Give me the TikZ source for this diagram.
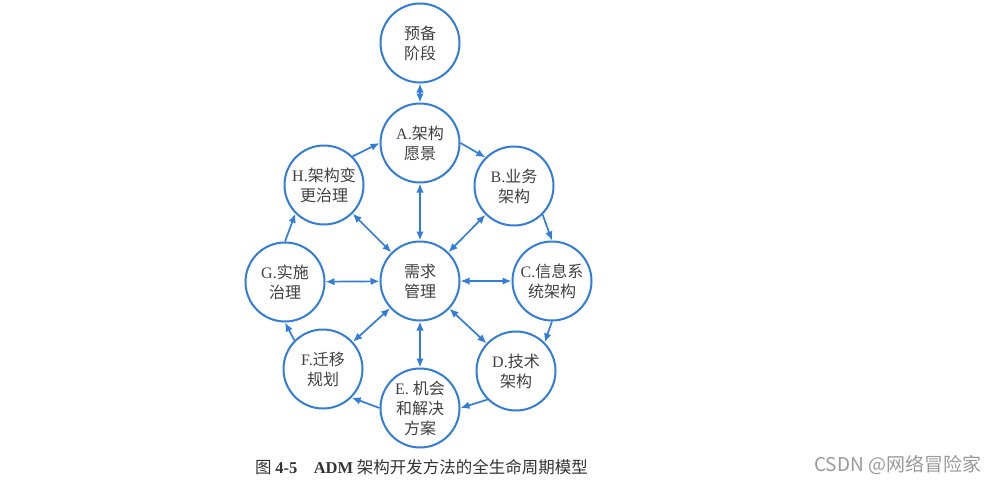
\documentclass[tikz,border=0pt]{standalone}
\usepackage{fontspec}
\setmainfont{Liberation Serif}
\newfontfamily\cjk{Noto Sans CJK SC}
\usepackage{xcolor}
\usetikzlibrary{arrows.meta}
\definecolor{admblue}{RGB}{50,125,215}

\begin{document}
\begin{tikzpicture}[x=0.5pt,y=0.5pt,
		phase/.style={circle,draw=admblue,line width=1pt,minimum size=39.5pt,inner sep=0pt,
			align=center,text=black!75,font=\cjk\fontsize{8}{10}\selectfont},
		flow/.style={draw=admblue,line width=0.85pt,-{Latex[length=4.5pt,width=3.8pt]}},
		both/.style={draw=admblue,line width=0.85pt,{Latex[length=4.5pt,width=3.8pt]}-{Latex[length=4.5pt,width=3.8pt]}}]
			\useasboundingbox (0,0) rectangle (997,484);
			\node[phase] (prep) at (420,441) {预备\\阶段};
			\node[phase] (a) at (420,341) {\textrm{A.}架构\\愿景};
			\node[phase] (b) at (514,298) {\textrm{B.}业务\\架构};
			\node[phase] (c) at (552,203) {\textrm{C.}信息系\\统架构};
			\node[phase] (d) at (516,113) {\textrm{D.}技术\\架构};
			\node[phase] (e) at (420,76) {\textrm{E. }机会\\和解决\\方案};
			\node[phase] (f) at (323,115) {\textrm{F.}迁移\\规划};
			\node[phase] (g) at (285,202) {\textrm{G.}实施\\治理};
			\node[phase] (h) at (324,299) {\textrm{H.}架构变\\更治理};
			\node[phase] (req) at (420,203) {需求\\管理};
			% preliminary phase
			\draw[both] (prep) -- (a);
			% requirements management in the middle
			\foreach \p in {a,b,c,d,e,f,g,h}
				\draw[both] (req) -- (\p);
			% the ADM cycle
			\draw[flow] (a.0) -- (b.135);
			\draw[flow] (b.-45) -- (c.90);
			\draw[flow] (c.-90) -- (d.45);
			\draw[flow] (d.-135) -- (e.0);
			\draw[flow] (e.180) -- (f.-45);
			\draw[flow] (f.135) -- (g.-90);
			\draw[flow] (g.90) -- (h.-135);
			\draw[flow] (h.45) -- (a.180);
			% caption and watermark
			\node[anchor=west,text=black!80,font=\cjk\fontsize{8.25}{10}\selectfont] (cap) at (248,17)
				{图 \textrm{\bfseries 4-5}\quad\textrm{\bfseries ADM} 架构开发方法的全生命周期模型};
			\node[anchor=west,text=black!40,font=\cjk\fontsize{9.5}{11}\selectfont] (mark) at (807,19)
				{CSDN @网络冒险家};
		\end{tikzpicture}
\end{document}
